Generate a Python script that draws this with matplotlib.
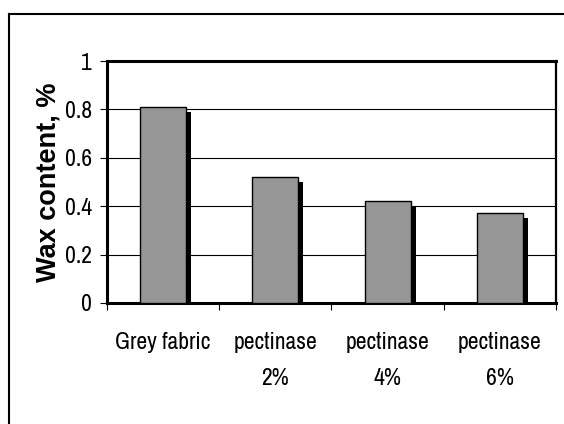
import matplotlib
matplotlib.use('Agg')
import matplotlib.pyplot as plt
import matplotlib.patheffects as pe
from matplotlib.lines import Line2D

# wax content after pectinase scouring
categories = ['Grey fabric', 'pectinase\n2%', 'pectinase\n4%', 'pectinase\n6%']
wax = [0.81, 0.52, 0.42, 0.37]
yticks = [0, 0.2, 0.4, 0.6, 0.8, 1]
ytick_labels = ['0', '0.2', '0.4', '0.6', '0.8', '1']

narrow = ['Archivo Narrow', 'DejaVu Sans']

fig = plt.figure(figsize=(5.64, 4.24), dpi=100)
ax = fig.add_axes([0.1897, 0.2854, 0.7961, 0.5707])

x = range(len(categories))
shadow = [pe.SimplePatchShadow(offset=(3.6, -3.6), shadow_rgbFace='black', alpha=1.0),
          pe.Normal()]
bars = ax.bar(x, wax, width=0.41, color='#969696', edgecolor='black',
              linewidth=1.0, zorder=3)
for b in bars:
    b.set_path_effects(shadow)

ax.set_xlim(-0.5, len(categories) - 0.5)
ax.set_ylim(0, 1)
ax.set_yticks(yticks)
ax.set_yticklabels(ytick_labels, family=narrow, fontsize=17)
ax.yaxis.grid(True, color='black', linewidth=0.8)
ax.set_axisbelow(True)

ax.set_xticks(list(x))
ax.set_xticklabels(categories, family=narrow, fontsize=17, linespacing=1.85)
ax.set_xticks([i - 0.5 for i in range(len(categories) + 1)], minor=True)
ax.tick_params(axis='x', which='major', length=0, pad=21)
ax.tick_params(axis='x', which='minor', length=5, width=0.8, direction='out')
ax.tick_params(axis='y', length=5, width=0.8, direction='out', pad=6)

for s in ax.spines.values():
    s.set_linewidth(2.2)
ax.spines['right'].set_linewidth(1.6)

ax.set_ylabel('Wax content, %', fontsize=19.5, fontweight='bold',
              family=['Liberation Sans', 'DejaVu Sans'])
ax.yaxis.set_label_coords(-0.102, 0.5)

# frame around the chart area, clipped by the page edge
fig.add_artist(Line2D([9 / 564, 1.0], [1 - 14 / 424, 1 - 14 / 424],
                      transform=fig.transFigure, color='black', linewidth=1.5))
fig.add_artist(Line2D([9 / 564, 9 / 564], [0.0, 1 - 14 / 424],
                      transform=fig.transFigure, color='black', linewidth=1.5))

fig.savefig('out.png', dpi=100)
